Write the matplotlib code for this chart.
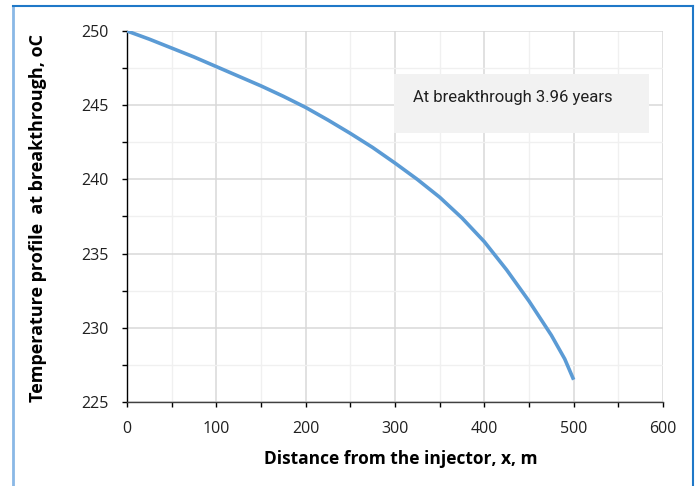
import matplotlib
matplotlib.use("Agg")
import matplotlib.pyplot as plt
from matplotlib.lines import Line2D
from matplotlib.ticker import MultipleLocator

# Data
distance_m = [0, 25, 50, 75, 100, 125, 150, 175, 200, 225, 250, 275, 300,
              325, 350, 375, 400, 425, 450, 475, 490, 500]
temperature_c = [250.0, 249.45, 248.85, 248.25, 247.6, 246.95, 246.3, 245.6,
                 244.85, 244.0, 243.1, 242.15, 241.1, 240.0, 238.8, 237.4,
                 235.8, 233.9, 231.8, 229.5, 227.9, 226.5]
x_ticks = [0, 100, 200, 300, 400, 500, 600]
y_ticks = [225, 230, 235, 240, 245, 250]
annotation = "At breakthrough 3.96 years"
x_label = "Distance from the injector, x, m"
y_label = "Temperature profile  at breakthrough, oC"

plt.rcParams['font.family'] = ['Open Sans', 'DejaVu Sans']

W, H = 698, 486
fig = plt.figure(figsize=(W / 100, H / 100), dpi=100)

# axes: x from pixel 127 to 663, y from 31 to 402
ax = fig.add_axes([127 / W, 1 - 402 / H, (663 - 127) / W, (402 - 31) / H])

ax.plot(distance_m, temperature_c, color="#5b9bd5", lw=2.6,
        solid_capstyle="butt", zorder=3)

ax.set_xlim(0, 600)
ax.set_ylim(225, 250)
ax.set_xticks(x_ticks)
ax.set_yticks(y_ticks)
ax.xaxis.set_minor_locator(MultipleLocator(50))
ax.yaxis.set_minor_locator(MultipleLocator(2.5))
ax.grid(which="major", color="#d9d9d9", lw=1.1, zorder=0)
ax.grid(which="minor", color="#f0f0f0", lw=1.0, zorder=0)
ax.set_axisbelow(True)

for s in ["top", "right"]:
    ax.spines[s].set_visible(False)
ax.spines["left"].set_color("black")
ax.spines["bottom"].set_color("#404040")
ax.spines["left"].set_linewidth(1.0)
ax.spines["bottom"].set_linewidth(1.0)

ax.tick_params(which="both", direction="out", length=3.6, width=1,
               labelsize=11.5, labelcolor="#202020")
ax.tick_params(axis="x", which="major", pad=10)
ax.tick_params(axis="y", which="major", pad=9.3)

ax.set_xlabel(x_label, fontsize=12.5, fontweight="bold", va="center")
ax.set_ylabel(y_label, fontsize=13, fontweight="bold", va="center")
ax.xaxis.set_label_coords((401 - 127) / 536, (402 - 459) / 371)
ax.yaxis.set_label_coords((38 - 127) / 536, (402 - 218) / 371)

# annotation box
fig.patches.append(plt.Rectangle((394 / W, 1 - 133 / H), (649 - 394) / W,
                                 (133 - 74) / H, transform=fig.transFigure,
                                 facecolor="#f2f2f2", edgecolor="none",
                                 zorder=5))
fig.text(413 / W, 1 - 97 / H, annotation, fontsize=12,
         family=['Liberation Sans Narrow', 'Roboto', 'DejaVu Sans'],
         va="center", ha="left", color="#202020", zorder=6)

# outer frame
fig.add_artist(Line2D([13 / W, 13 / W], [0, 1 - 6 / H], transform=fig.transFigure,
                      color="#8ab8e6", lw=2))
fig.add_artist(Line2D([13 / W, 693 / W], [1 - 6 / H, 1 - 6 / H],
                      transform=fig.transFigure, color="#1f78c8", lw=1.5))
fig.add_artist(Line2D([693 / W, 693 / W], [0, 1 - 6 / H],
                      transform=fig.transFigure, color="#1f78c8", lw=1.5))

fig.savefig("out.png", dpi=100)
